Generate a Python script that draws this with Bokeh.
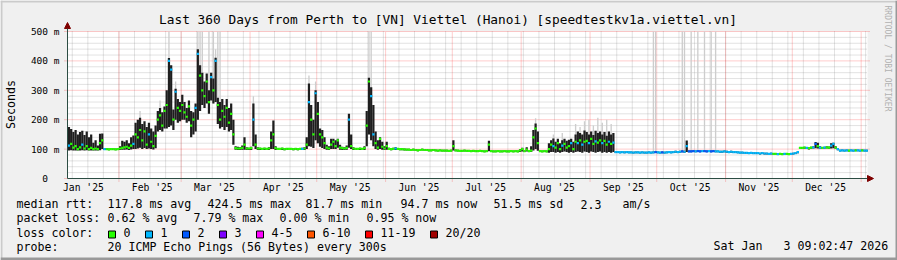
import numpy as np
import pandas as pd
from bokeh.plotting import figure
from bokeh.models import Label, Arrow, NormalHead, Range1d, ColumnDataSource
from bokeh.core.properties import value
from bokeh.embed import file_html
from bokeh.resources import INLINE

# ---------------- data ----------------
ORIGIN = pd.Timestamp("2025-01-01")
FIRST_DAY = pd.Timestamp("2025-01-09")

# daily median rtt (ms), one value per day from 2025-01-09
median_ms = [
    112,118,105,110,100,106,115,102,110,100,
    104,100,102,100,120,130,100,100,99,100,
    100,99,100,102,104,106,108,104,112,118,
    150,140,165,130,160,115,150,125,110,145,
    200,215,180,230,250,400,370,200,295,240,
    230,250,225,210,245,180,200,240,424,350,
    300,280,330,260,345,300,400,250,200,230,
    210,240,190,220,150,103,102,102,104,115,
    102,102,103,200,115,102,102,101,102,101,
    102,130,150,103,101,101,102,100,101,101,
    101,100,101,100,101,101,102,115,260,200,
    150,290,220,150,140,120,105,102,115,125,
    110,130,105,103,102,104,200,110,102,101,
    101,102,101,103,180,330,280,150,120,105,
    135,108,102,110,101,100,101,102,101,100,
    100,99,98,98,97,98,97,96,97,98,
    97,97,96,96,97,96,95,96,95,95,
    95,94,95,110,96,95,94,94,95,94,
    94,93,94,93,93,94,93,92,93,115,
    93,92,92,93,92,92,93,92,92,93,
    92,93,92,96,100,93,98,93,95,140,
    170,120,93,92,93,92,100,115,110,105,
    120,100,112,118,105,110,120,100,125,120,
    130,115,125,128,120,135,118,126,122,130,
    120,128,115,125,118,122,90,90,89,90,
    89,90,89,89,88,89,89,88,89,88,
    88,89,88,89,90,89,88,89,88,89,
    90,89,90,91,90,91,92,91,110,92,
    92,93,92,93,92,93,93,92,93,92,
    93,92,92,91,91,92,91,90,91,90,
    90,89,88,88,87,87,86,87,86,86,
    86,85,86,85,85,84,85,84,84,83,
    84,83,84,84,83,84,85,86,90,104,
    104,105,104,103,105,106,118,110,105,104,
    105,106,105,112,118,105,100,95,96,95,
    96,95,96,95,96,96,95,96,95,95,
]
# upper edge of the smoke (ms)
smoke_hi = [
    175,168,158,165,150,158,162,148,160,140,
    150,122,130,112,152,153,104,103,102,103,
    103,102,103,110,128,125,130,120,140,146,
    190,200,207,185,195,175,190,170,160,180,
    230,240,225,245,300,410,385,235,305,270,
    260,285,260,240,265,230,225,255,440,385,
    360,330,357,300,360,340,411,275,260,270,
    250,270,240,255,200,110,108,106,112,140,
    106,105,108,255,150,106,105,104,105,104,
    106,160,197,110,104,104,105,103,104,104,
    104,103,104,103,104,105,106,140,323,250,
    200,300,260,170,165,140,115,110,135,135,
    130,135,115,108,106,112,220,150,106,104,
    104,105,104,110,230,343,310,250,160,130,
    140,125,110,125,105,104,105,106,104,103,
    103,102,101,101,100,101,100,99,100,101,
    100,100,99,99,100,99,98,99,98,98,
    98,97,98,130,99,98,97,97,98,97,
    97,96,97,96,96,97,96,95,96,128,
    96,95,95,96,95,95,96,95,95,96,
    95,96,95,100,105,96,106,96,110,165,
    187,160,96,95,96,95,120,130,136,125,
    135,120,130,135,128,132,135,125,150,160,
    155,150,163,158,150,160,148,162,155,160,
    150,158,145,160,150,155,93,93,92,93,
    92,93,92,92,91,92,92,91,92,91,
    91,92,91,92,93,92,91,92,91,92,
    93,92,93,94,93,94,95,94,129,95,
    95,96,95,96,95,96,96,95,96,95,
    96,95,95,94,94,95,94,93,94,93,
    93,92,91,91,90,90,89,90,89,89,
    89,88,89,88,88,87,88,87,87,86,
    87,86,87,87,86,87,88,89,93,107,
    107,108,107,106,108,110,124,122,110,107,
    108,110,109,120,122,110,104,98,99,98,
    99,98,99,98,99,99,98,99,98,98,
]
# lower edge of the smoke (ms)
smoke_lo = [
    95,96,95,95,95,95,96,95,96,95,
    95,95,95,95,96,100,97,97,96,97,
    97,96,97,97,98,98,99,97,99,100,
    100,102,105,100,104,100,102,100,99,103,
    160,165,160,170,170,175,180,165,200,190,
    195,200,200,190,195,140,150,160,200,230,
    250,240,255,220,265,255,260,185,170,175,
    165,175,160,165,115,98,97,97,98,98,
    97,97,97,110,100,97,97,97,97,97,
    97,100,100,97,97,97,97,96,97,97,
    97,96,97,96,97,97,97,100,110,108,
    104,130,120,108,104,100,98,97,100,100,
    100,105,98,97,97,98,105,100,97,97,
    97,97,97,97,110,150,130,110,100,98,
    100,98,97,98,97,96,97,97,97,96,
    96,95,95,95,94,95,94,93,94,95,
    94,94,93,93,94,93,92,93,92,92,
    92,91,92,95,93,92,91,91,92,91,
    91,90,91,90,90,91,90,89,90,93,
    90,89,89,90,89,89,90,89,89,90,
    89,90,89,90,92,90,92,90,90,95,
    100,94,90,89,90,89,88,90,90,88,
    90,88,90,92,90,88,90,88,90,92,
    90,88,92,90,88,92,90,88,90,92,
    88,90,88,90,88,90,87,87,86,87,
    86,87,86,86,85,86,86,85,86,85,
    85,86,85,86,87,86,85,86,85,86,
    87,86,87,88,87,88,89,88,90,89,
    89,90,89,90,89,90,90,89,90,89,
    90,89,89,88,88,89,88,87,88,87,
    87,86,85,85,84,84,83,84,83,83,
    83,82,83,82,82,81,82,81,81,80,
    81,80,81,81,80,81,82,83,86,100,
    100,101,100,99,101,102,103,102,101,100,
    101,102,101,102,103,101,96,92,93,92,
    93,92,93,92,93,93,92,93,92,92,
]
# lost pings (of 20) per day
lost = [
    1,0,0,0,0,0,1,0,0,0,
    0,0,0,0,0,0,1,0,0,0,
    0,0,0,0,0,0,0,0,0,1,
    0,0,0,0,0,0,1,0,0,0,
    0,0,0,0,0,1,1,0,1,0,
    0,0,0,0,0,0,0,1,1,0,
    0,0,0,0,1,0,1,0,0,0,
    0,0,0,0,0,0,0,0,0,0,
    0,0,0,1,0,0,0,0,0,0,
    0,0,0,0,0,0,0,0,0,0,
    0,0,0,0,0,1,0,0,1,0,
    0,1,0,0,0,0,0,0,0,0,
    0,0,0,0,0,0,1,0,0,0,
    0,0,0,0,0,0,1,1,0,0,
    0,0,0,0,0,0,0,1,0,0,
    0,0,0,0,0,0,0,0,0,0,
    0,0,0,0,0,0,0,0,0,0,
    0,0,0,0,0,0,0,0,0,0,
    0,0,0,0,0,0,0,0,0,0,
    0,0,0,0,0,0,0,0,0,0,
    0,0,0,0,0,0,0,0,0,0,
    0,0,0,0,0,0,0,0,1,0,
    0,0,1,0,0,0,1,0,0,1,
    0,1,0,0,1,0,0,1,0,0,
    1,0,0,1,0,1,1,1,1,1,
    1,1,1,1,1,1,1,1,1,1,
    1,1,1,1,2,1,1,2,1,1,
    1,1,1,1,1,1,2,1,1,2,
    2,2,1,2,2,1,2,2,1,2,
    2,1,1,1,1,1,1,1,1,1,
    1,1,1,1,1,1,1,1,1,1,
    1,1,1,1,1,1,1,0,0,1,
    0,0,1,0,0,1,1,1,1,0,
    0,0,1,0,0,1,2,0,1,0,
    1,0,0,1,1,0,1,1,1,1,
    1,0,1,1,0,1,1,0,1,1,
]
# days (since 2025-01-01) with faint outlier smoke, and how high it reaches (ms)
outlier_day = [40, 49, 53, 56, 66, 67, 68, 71, 73, 74, 75, 76, 91, 116, 119,
               143, 144, 218, 226, 230, 236, 238, 240, 242, 244, 246, 248, 250, 252,
               271, 272, 284, 285, 288, 291, 294, 297, 299]
outlier_top = [230, 265, 500, 330, 500, 500, 500, 500, 500, 440, 500, 500, 280, 350, 330,
               500, 500, 205, 150, 155, 185, 175, 195, 200, 180, 207, 190, 200, 185,
               500, 500, 500, 500, 500, 500, 500, 500, 500]

loss_labels = ["0", "1", "2", "3", "4-5", "6-10", "11-19", "20/20"]
loss_low = [0, 1, 2, 3, 4, 6, 11, 20]
loss_high = [0, 1, 2, 3, 5, 10, 19, 20]
loss_colors = ["#26ff00", "#00b8ff", "#0059ff", "#7e00ff", "#ff00ff", "#ff5500", "#ff0000", "#a10000"]

y_ticks = [0, 100, 200, 300, 400, 500]
y_tick_labels = ["0\u00a0\u00a0", "100 m", "200 m", "300 m", "400 m", "500 m"]
y_minor = [v for v in range(0, 501, 20) if v % 100]

month_starts = pd.date_range("2025-01-01", "2026-01-01", freq="MS")
month_labels = ["Jan '25", "Feb '25", "Mar '25", "Apr '25", "May '25", "Jun '25",
                "Jul '25", "Aug '25", "Sep '25", "Oct '25", "Nov '25", "Dec '25"]
week_starts = pd.date_range("2025-01-04", "2026-01-10", freq="7D")

title_text = "Last 360 Days from Perth to [VN] Viettel (Hanoi) [speedtestkv1a.viettel.vn]"
rtt_stats = ["median rtt:", "117.8 ms avg", "424.5 ms max", "81.7 ms min", "94.7 ms now",
             "51.5 ms sd", "2.3", "am/s"]
loss_stats = ["packet loss:", "0.62 % avg", "7.79 % max", "0.00 % min", "0.95 % now"]
probe_text = ["probe:", "20 ICMP Echo Pings (56 Bytes) every 300s"]
stamp_text = ["Sat Jan", "3 09:02:47 2026"]

# ---------------- layout helpers ----------------
W, H = 897, 260
FL, FR, FT, FB = 67, 867, 31, 178          # graph area edges in pixels
X0 = 7.85
XSPAN = 360.0
FONT = "DejaVu Sans Mono"
CHAR_W = 7.0                               # advance of the 11.6px mono font


def X(px):
    return X0 + (px - FL) * XSPAN / (FR - FL)


def Y(py):
    return (FB - py) * 500.0 / (FB - FT)


def day_num(ts):
    return (ts - ORIGIN).days


days = day_num(FIRST_DAY) + np.arange(len(median_ms))
centers = days + 0.5

# the frame covers the whole canvas; the graph area is mapped onto it
p = figure(width=W, height=H, output_backend="svg", toolbar_location=None,
           x_range=Range1d(X(0), X(W)), y_range=Range1d(Y(H), Y(0)),
           min_border=0, x_axis_location=None, y_axis_location=None,
           background_fill_color="#f0f0f0", border_fill_color="#f0f0f0",
           outline_line_color=None, title=None)
p.grid.visible = False

# 3D border of the image
p.quad(left=[X(0), X(0), X(0), X(W - 2)], right=[X(W), X(2), X(W), X(W)],
       bottom=[Y(2), Y(H), Y(H), Y(H)], top=[Y(0), Y(0), Y(H - 3), Y(0)],
       fill_color=["#cbcbcb", "#cbcbcb", "#999999", "#999999"], line_color=None)

# white canvas of the graph
p.quad(left=[X0], right=[X0 + XSPAN], bottom=[0], top=[500], fill_color="white",
       line_color=None)

# grid
wk = [day_num(t) for t in week_starts if X0 <= day_num(t) <= X0 + XSPAN]
p.segment(x0=wk, y0=[0] * len(wk), x1=wk, y1=[500] * len(wk),
          line_color="#808080", line_alpha=0.45, line_dash="1 1")
p.segment(x0=[X0] * len(y_minor), y0=y_minor, x1=[X0 + XSPAN] * len(y_minor), y1=y_minor,
          line_color="#808080", line_alpha=0.45, line_dash="1 1")
ms = [day_num(t) for t in month_starts if X0 <= day_num(t) <= X0 + XSPAN]
p.segment(x0=ms, y0=[Y(181)] * len(ms), x1=ms, y1=[500] * len(ms),
          line_color="#ff0000", line_alpha=0.4, line_dash="1 1")
p.segment(x0=[X(64)] * len(y_ticks), y0=y_ticks, x1=[X(869)] * len(y_ticks), y1=y_ticks,
          line_color="#ff0000", line_alpha=0.4, line_dash="1 1")

# outlier smoke (light grey)
lo_by_day = dict(zip(days.tolist(), smoke_lo))
p.vbar(x=[d + 0.5 for d in outlier_day], width=0.6, top=outlier_top,
       bottom=[lo_by_day[d] for d in outlier_day], fill_color="#cdcdcd",
       line_color=None)
# main smoke
p.vbar(x=centers, width=1.0, top=smoke_hi, bottom=smoke_lo, fill_color="#1e1e1e",
       line_color=None)

# median marks coloured by loss
lost_arr = np.array(lost)
med_arr = np.array(median_ms)
for lo_, hi_, col in zip(loss_low, loss_high, loss_colors):
    m = (lost_arr >= lo_) & (lost_arr <= hi_)
    src = ColumnDataSource(dict(x=centers[m], y=med_arr[m]))
    p.rect(x="x", y="y", width=1.0, height=2.2, height_units="screen",
           source=src, fill_color=col, line_color=None)

# axes: lines with arrow heads, tick labels through the data scales
p.add_layout(Arrow(end=NormalHead(size=6, fill_color="#7f0000", line_color="#7f0000"),
                   x_start=X0, y_start=0, x_end=X0, y_end=Y(22),
                   line_color="#2c4d43", line_width=1))
p.add_layout(Arrow(end=NormalHead(size=6, fill_color="#7f0000", line_color="#7f0000"),
                   x_start=X0, y_start=0, x_end=X(873), y_end=0,
                   line_color="#2c4d43", line_width=1))
p.text(x=[X(59)] * len(y_ticks), y=y_ticks, text=y_tick_labels,
       text_font=value(FONT), text_font_size=value("9.5px"),
       text_align="right", text_baseline="middle")
label_days = [day_num(t) + 15 for t in month_starts[:12]]
p.text(x=label_days, y=[Y(187)] * len(label_days), text=month_labels,
       text_font=value(FONT), text_font_size=value("9.7px"),
       text_align="center", text_baseline="middle")


def text(s, px, py, size="11.6px", align="left", angle=0.0, color="black"):
    p.add_layout(Label(x=X(px), y=Y(py), text=s, text_font=FONT, text_font_size=size,
                       text_align=align, text_baseline="middle", angle=angle,
                       text_color=color))


text(title_text, 447.5, 18.8, size="12.8px", align="center")
text("Seconds", 10.5, 104, align="center", angle=np.pi / 2)
text("RRDTOOL / TOBI OETIKER", 887, 5, size="8px", angle=-np.pi / 2, color="#b0b0b0")

for s, px in zip(rtt_stats, [16, 107, 207, 305, 400, 493, 580, 622]):
    text(s, px, 203.7)
for s, px in zip(loss_stats, [16, 107, 193, 279, 366]):
    text(s, px, 217.8)
text("loss color:", 16, 232)

# loss colour legend: swatch, gap, label, gap ... laid out one after another
sw_left, lab_left = [], []
cur = 108.0
for lab in loss_labels:
    sw_left.append(cur)
    lab_left.append(cur + 15)
    cur += 15 + len(lab) * CHAR_W + 15
p.quad(left=[X(v) for v in sw_left], right=[X(v + 7) for v in sw_left],
       top=[Y(230.5)] * len(sw_left), bottom=[Y(237.5)] * len(sw_left),
       fill_color=loss_colors, line_color="black", line_width=1)
p.text(x=[X(v) for v in lab_left], y=[Y(232)] * len(lab_left), text=loss_labels,
       text_font=value(FONT), text_font_size=value("11.6px"),
       text_align="left", text_baseline="middle")

text(probe_text[0], 16, 246)
text(probe_text[1], 107, 246)
text(stamp_text[0], 713, 245.5)
text(stamp_text[1], 783, 245.5)

open("out.html", "w").write(file_html(p, INLINE))
